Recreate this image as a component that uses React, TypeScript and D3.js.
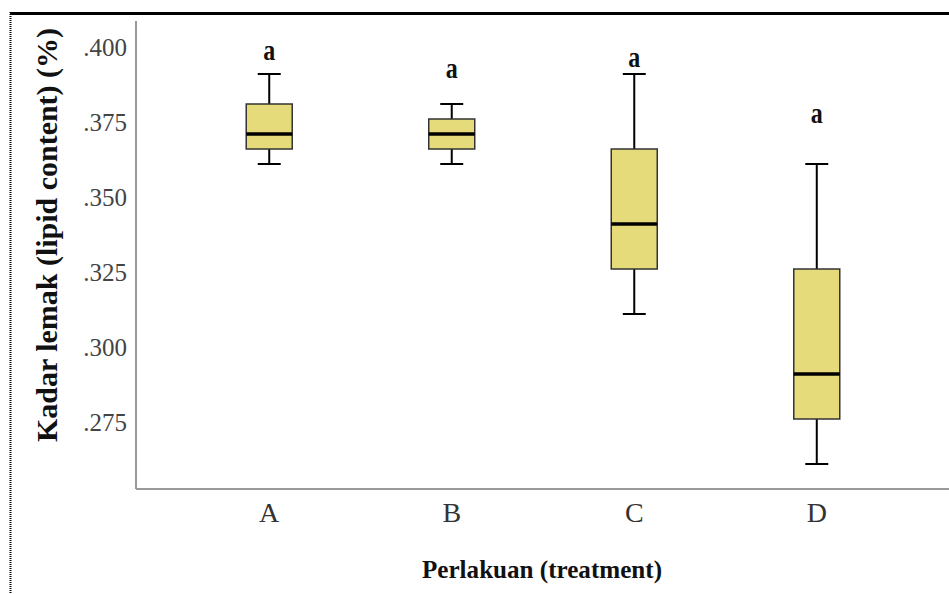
import React from "react";
import * as d3 from "d3";

const categories = ["A", "B", "C", "D"];
const whiskerLow = [0.36, 0.36, 0.31, 0.26];
const q1 = [0.365, 0.365, 0.325, 0.275];
const medians = [0.37, 0.37, 0.34, 0.29];
const q3 = [0.38, 0.375, 0.365, 0.325];
const whiskerHigh = [0.39, 0.38, 0.39, 0.36];
const letters = ["a", "a", "a", "a"];
const letterValues = [0.3947, 0.3887, 0.3923, 0.3737];
const yTicks = [0.4, 0.375, 0.35, 0.325, 0.3, 0.275];

const W = 949;
const H = 594;
const axisX = 136;
const axisBottom = 489;
const axisTop = 21;

export default function App() {
  const x = d3.scalePoint<string>().domain(categories).range([axisX, 950]).padding(0.73);
  const y = d3.scaleLinear().domain([0.25, 0.4]).range([494, 44]);
  const boxW = 46;
  const capW = 23;
  const fmt = (v: number) => d3.format(".3f")(v).replace(/^0/, "");
  const serif = "'Liberation Serif', 'Times New Roman', serif";

  return (
    <svg width={W} height={H} style={{ position: "absolute", left: 0, top: 0, background: "#fff" }}>
      <rect x={0} y={0} width={W} height={H} fill="#fff" />
      {/* frame borders */}
      <line x1={10} x2={W} y1={13.5} y2={13.5} stroke="#000" strokeWidth={3} />
      <line x1={10.5} x2={10.5} y1={12} y2={H} stroke="#000" strokeWidth={2} strokeDasharray="1,1" />

      {/* axes */}
      <line x1={axisX} x2={axisX} y1={axisTop} y2={axisBottom} stroke="#999" strokeWidth={2} />
      <line x1={axisX} x2={W} y1={axisBottom} y2={axisBottom} stroke="#999" strokeWidth={2} />

      {yTicks.map((t) => (
        <text key={t} x={127} y={y(t) + 3} dy="0.35em" textAnchor="end" fontFamily={serif} fontSize={25} fill="#444">
          {fmt(t)}
        </text>
      ))}

      {categories.map((c) => (
        <text key={c} x={x(c)} y={522} textAnchor="middle" fontFamily={serif} fontSize={28} fill="#333">
          {c}
        </text>
      ))}

      {categories.map((c, i) => {
        const cx = x(c) as number;
        return (
          <g key={"box" + c}>
            <line x1={cx} x2={cx} y1={y(whiskerHigh[i])} y2={y(q3[i])} stroke="#000" strokeWidth={2} />
            <line x1={cx} x2={cx} y1={y(q1[i])} y2={y(whiskerLow[i])} stroke="#000" strokeWidth={2} />
            <line x1={cx - capW / 2} x2={cx + capW / 2} y1={y(whiskerHigh[i])} y2={y(whiskerHigh[i])} stroke="#000" strokeWidth={2} />
            <line x1={cx - capW / 2} x2={cx + capW / 2} y1={y(whiskerLow[i])} y2={y(whiskerLow[i])} stroke="#000" strokeWidth={2} />
            <rect
              x={cx - boxW / 2}
              y={y(q3[i])}
              width={boxW}
              height={y(q1[i]) - y(q3[i])}
              fill="#E6DB7A"
              stroke="#333"
              strokeWidth={1.5}
            />
            <line x1={cx - boxW / 2} x2={cx + boxW / 2} y1={y(medians[i])} y2={y(medians[i])} stroke="#000" strokeWidth={3.5} />
            <text
              x={cx}
              y={y(letterValues[i])}
              textAnchor="middle"
              fontFamily={serif}
              fontWeight="bold"
              fontSize={30}
              textLength={12}
              lengthAdjust="spacingAndGlyphs"
              fill="#111"
            >
              {letters[i]}
            </text>
          </g>
        );
      })}

      <text
        x={542}
        y={578}
        textAnchor="middle"
        fontFamily={serif}
        fontWeight="bold"
        fontSize={26}
        textLength={240}
        lengthAdjust="spacingAndGlyphs"
        fill="#111"
      >
        Perlakuan (treatment)
      </text>
      <text
        transform="translate(57,235) rotate(-90)"
        textAnchor="middle"
        fontFamily={serif}
        fontWeight="bold"
        fontSize={30}
        textLength={414}
        lengthAdjust="spacingAndGlyphs"
        fill="#111"
      >
        Kadar lemak (lipid content) (%)
      </text>
    </svg>
  );
}
